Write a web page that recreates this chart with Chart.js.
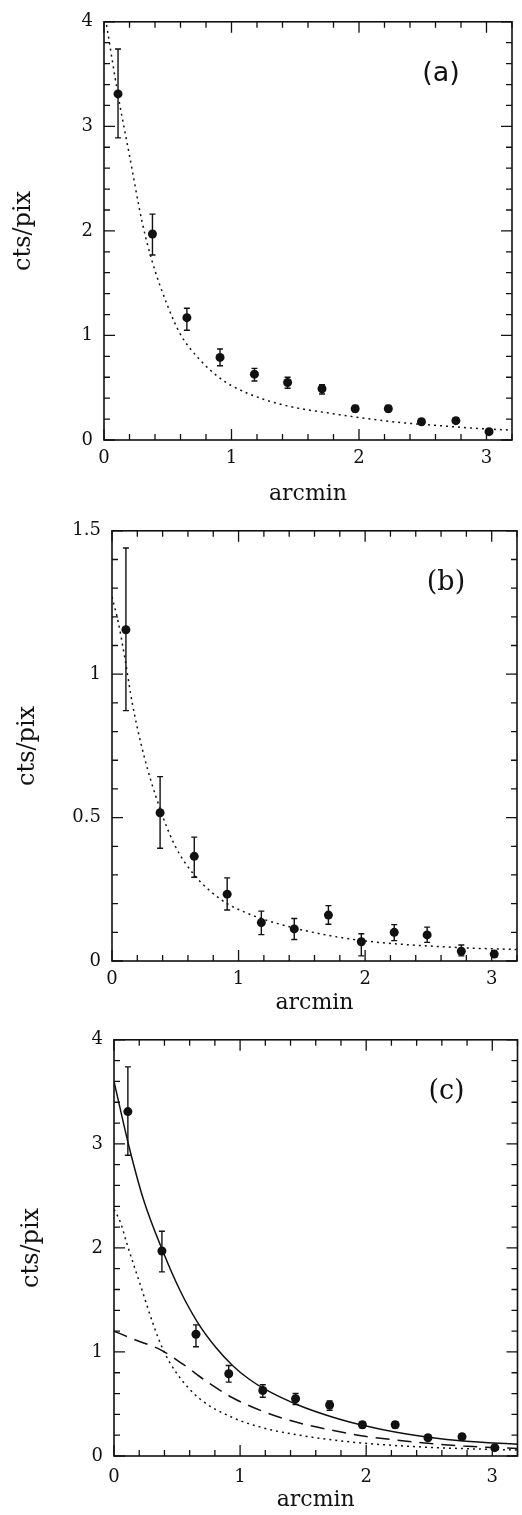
<!DOCTYPE html>
<html>
<head>
<meta charset="utf-8">
<script src="https://cdn.jsdelivr.net/npm/chart.js"></script>
<style>
  body { margin: 0; background: #fff; }
  .panel { position: absolute; left: 0; }
</style>
</head>
<body>
<div class="panel" style="top:0px"><canvas id="chartA" width="522" height="509"></canvas></div>
<div class="panel" style="top:509px"><canvas id="chartB" width="522" height="509"></canvas></div>
<div class="panel" style="top:1018px"><canvas id="chartC" width="522" height="497"></canvas></div>
<script>
// radial bins (arcmin), same for all panels
var radius = [0.11, 0.38, 0.65, 0.91, 1.18, 1.44, 1.71, 1.97, 2.23, 2.49, 2.76, 3.02];

// panel (a) and (c): profile with error bars
var countsA = [3.31, 1.97, 1.17, 0.79, 0.63, 0.55, 0.49, 0.30, 0.30, 0.175, 0.185, 0.08];
var lowA    = [2.89, 1.77, 1.05, 0.71, 0.565, 0.495, 0.44, 0.27, 0.27, 0.15, 0.16, 0.06];
var highA   = [3.74, 2.16, 1.26, 0.87, 0.685, 0.60, 0.53, 0.33, 0.33, 0.20, 0.21, 0.10];

// panel (b)
var countsB = [1.155, 0.517, 0.365, 0.233, 0.134, 0.112, 0.160, 0.067, 0.100, 0.091, 0.034, 0.024];
var lowB    = [0.873, 0.393, 0.292, 0.178, 0.092, 0.075, 0.128, 0.018, 0.071, 0.065, 0.018, 0.013];
var highB   = [1.44, 0.643, 0.432, 0.29, 0.174, 0.148, 0.193, 0.095, 0.127, 0.118, 0.056, 0.035];

// model curves
var fitAx = [0.02, 0.11, 0.20, 0.30, 0.38, 0.50, 0.60, 0.75, 0.90, 1.00, 1.25, 1.50, 1.75, 2.00, 2.30, 2.60, 2.90, 3.20];
var fitAy = [3.97, 3.30, 2.72, 2.08, 1.70, 1.28, 1.01, 0.77, 0.60, 0.52, 0.39, 0.31, 0.26, 0.215, 0.17, 0.14, 0.113, 0.094];

var fitBx = [0.0, 0.05, 0.10, 0.16, 0.25, 0.38, 0.50, 0.65, 0.80, 0.91, 1.05, 1.18, 1.44, 1.70, 2.00, 2.30, 2.60, 2.90, 3.20];
var fitBy = [1.27, 1.18, 1.06, 0.90, 0.72, 0.53, 0.40, 0.30, 0.235, 0.20, 0.17, 0.148, 0.115, 0.09, 0.07, 0.058, 0.05, 0.044, 0.04];

var totalCx = [0.0, 0.12, 0.235, 0.39, 0.52, 0.66, 0.81, 0.94, 1.07, 1.20, 1.46, 1.73, 1.99, 2.25, 2.51, 2.77, 3.20];
var totalCy = [3.60, 2.97, 2.46, 1.96, 1.60, 1.29, 1.04, 0.87, 0.74, 0.64, 0.49, 0.375, 0.29, 0.225, 0.178, 0.145, 0.113];

var pointCx = [0.0, 0.05, 0.10, 0.21, 0.31, 0.39, 0.50, 0.68, 0.94, 1.20, 1.47, 1.73, 1.99, 2.50, 3.20];
var pointCy = [2.37, 2.25, 2.05, 1.64, 1.27, 1.02, 0.79, 0.55, 0.37, 0.265, 0.20, 0.155, 0.122, 0.083, 0.057];

var extCx = [0.0, 0.16, 0.37, 0.55, 0.73, 0.94, 1.20, 1.47, 1.73, 1.99, 2.25, 2.51, 2.77, 3.20];
var extCy = [1.20, 1.12, 1.02, 0.88, 0.72, 0.56, 0.42, 0.317, 0.247, 0.19, 0.152, 0.12, 0.095, 0.073];

// axis ticks
var xTickLabels = [0, 1, 2, 3];
var yTicksA = [0, 1, 2, 3, 4];
var yTicksB = [0, 0.5, 1, 1.5];

var ink = '#111';
var serif = 'DejaVu Serif';

function pts(xs, ys) {
  return xs.map(function(x, i) { return {x: x, y: ys[i]}; });
}

var axesBox = {
  id: 'axesBox',
  beforeDatasetsDraw: function(chart) {
    var o = chart.options.plugins.axesBox;
    var ctx = chart.ctx, xs = chart.scales.x, ys = chart.scales.y;
    ctx.save();
    ctx.strokeStyle = ink;
    ctx.lineWidth = 1.4;
    for (var i = 0; i < radius.length; i++) {
      var px = xs.getPixelForValue(radius[i]);
      var top = ys.getPixelForValue(o.high[i]);
      var bot = ys.getPixelForValue(o.low[i]);
      ctx.beginPath();
      ctx.moveTo(px, top); ctx.lineTo(px, bot);
      ctx.moveTo(px - 3, top); ctx.lineTo(px + 3, top);
      ctx.moveTo(px - 3, bot); ctx.lineTo(px + 3, bot);
      ctx.stroke();
    }
    ctx.restore();
  },
  afterDraw: function(chart) {
    var o = chart.options.plugins.axesBox;
    var ctx = chart.ctx, a = chart.chartArea;
    var xs = chart.scales.x, ys = chart.scales.y;
    ctx.save();
    ctx.strokeStyle = ink;
    ctx.lineWidth = 1.6;
    ctx.strokeRect(a.left, a.top, a.right - a.left, a.bottom - a.top);
    ctx.lineWidth = 1.3;
    ctx.beginPath();
    var v, p, len;
    for (v = 0; v <= 3.2001; v += 0.2) {
      p = xs.getPixelForValue(v);
      len = Math.abs(v - Math.round(v)) < 1e-6 ? 11 : 6;
      ctx.moveTo(p, a.bottom); ctx.lineTo(p, a.bottom - len);
      ctx.moveTo(p, a.top); ctx.lineTo(p, a.top + len);
    }
    for (v = 0; v <= o.ymax + 1e-6; v += o.minor) {
      p = ys.getPixelForValue(v);
      len = o.major.some(function(m) { return Math.abs(m - v) < 1e-6; }) ? 11 : 6;
      ctx.moveTo(a.left, p); ctx.lineTo(a.left + len, p);
      ctx.moveTo(a.right, p); ctx.lineTo(a.right - len, p);
    }
    ctx.stroke();
    ctx.fillStyle = ink;
    ctx.font = '27px ' + o.labelFont;
    ctx.textAlign = 'center';
    ctx.textBaseline = 'middle';
    ctx.fillText(o.label, a.right - 71, a.top + 52);
    ctx.restore();
  }
};

function makePanel(id, cfg) {
  var ctx = document.getElementById(id).getContext('2d');
  return new Chart(ctx, {
    type: 'scatter',
    data: { datasets: cfg.datasets },
    options: {
      responsive: false,
      animation: false,
      layout: { padding: { left: cfg.padLeft, right: cfg.padRight, top: cfg.padTop, bottom: 0 } },
      plugins: {
        legend: { display: false },
        tooltip: { enabled: false },
        axesBox: { low: cfg.low, high: cfg.high, ymax: cfg.ymax, minor: cfg.minor, major: cfg.yTicks, label: cfg.label, labelFont: cfg.labelFont }
      },
      scales: {
        x: {
          type: 'linear', min: 0, max: 3.2,
          afterBuildTicks: function(s) { s.ticks = xTickLabels.map(function(v) { return {value: v}; }); },
          afterFit: function(s) { s.height = cfg.xHeight; },
          grid: { display: false, drawTicks: false },
          border: { display: false },
          ticks: { padding: cfg.xPad, color: ink, font: { family: serif, size: 18 }, callback: function(v) { return String(v); } },
          title: { display: true, text: 'arcmin', color: ink, font: { family: serif, size: 22 }, padding: { top: 2, bottom: 2 } }
        },
        y: {
          type: 'linear', min: 0, max: cfg.ymax,
          afterBuildTicks: function(s) { s.ticks = cfg.yTicks.map(function(v) { return {value: v}; }); },
          afterFit: function(s) { s.width = cfg.yWidth; },
          grid: { display: false, drawTicks: false },
          border: { display: false },
          ticks: { padding: 11, color: ink, font: { family: serif, size: 18 }, callback: function(v) { return String(v); } },
          title: { display: true, text: 'cts/pix', color: ink, font: { family: serif, size: 24 }, padding: { top: 2, bottom: 2 } }
        }
      }
    },
    plugins: [axesBox]
  });
}

function dataPoints(ys) {
  return { data: pts(radius, ys), pointRadius: 4.5, pointBackgroundColor: ink, pointBorderColor: ink, borderWidth: 0, showLine: false, order: 0 };
}
function curve(xs, ys, dash) {
  return { data: pts(xs, ys), showLine: true, pointRadius: 0, borderColor: ink, borderWidth: 1.5, borderDash: dash, cubicInterpolationMode: 'monotone', fill: false, order: 1 };
}

makePanel('chartA', {
  datasets: [dataPoints(countsA), curve(fitAx, fitAy, [2, 4])],
  low: lowA, high: highA, ymax: 4, minor: 0.2, yTicks: yTicksA, label: '(a)', labelFont: 'DejaVu Sans',
  padLeft: 7, padRight: 10, padTop: 17, yWidth: 97, xHeight: 69, xPad: 8
});

makePanel('chartB', {
  datasets: [dataPoints(countsB), curve(fitBx, fitBy, [2, 4])],
  low: lowB, high: highB, ymax: 1.5, minor: 0.1, yTicks: yTicksB, label: '(b)', labelFont: serif,
  padLeft: 11, padRight: 5, padTop: 20, yWidth: 101, xHeight: 57, xPad: 8
});

makePanel('chartC', {
  datasets: [dataPoints(countsA), curve(totalCx, totalCy, []), curve(pointCx, pointCy, [2, 4]), curve(extCx, extCy, [14, 8])],
  low: lowA, high: highA, ymax: 4, minor: 0.2, yTicks: yTicksA, label: '(c)', labelFont: serif,
  padLeft: 15, padRight: 2, padTop: 17, yWidth: 99, xHeight: 59, xPad: 11
});
</script>
</body>
</html>
